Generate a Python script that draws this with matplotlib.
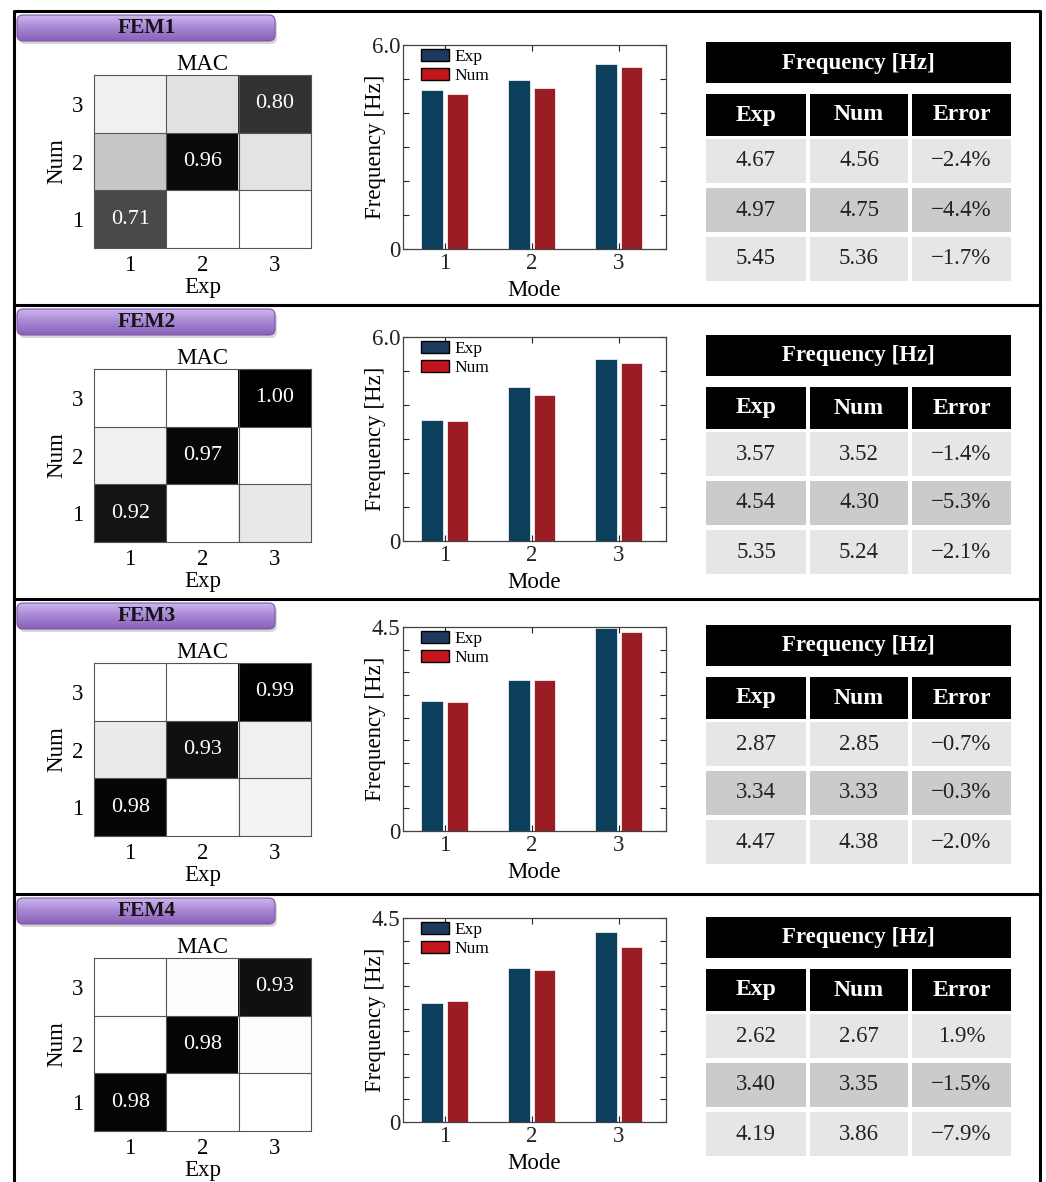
import numpy as np
import matplotlib.pyplot as plt
from matplotlib.patches import FancyBboxPatch, Rectangle, Patch
from matplotlib.colors import LinearSegmentedColormap

plt.rcParams['font.family'] = ['Liberation Serif', 'DejaVu Serif']

# model names
models = ['FEM1', 'FEM2', 'FEM3', 'FEM4']
modes = [1, 2, 3]

# MAC matrices, rows = Num mode 1..3, cols = Exp mode 1..3
mac_fem1 = [[0.71, 0.00, 0.00],
            [0.22, 0.96, 0.11],
            [0.06, 0.12, 0.80]]
mac_fem2 = [[0.92, 0.00, 0.09],
            [0.06, 0.97, 0.00],
            [0.00, 0.00, 1.00]]
mac_fem3 = [[0.98, 0.00, 0.05],
            [0.08, 0.93, 0.06],
            [0.00, 0.00, 0.99]]
mac_fem4 = [[0.98, 0.00, 0.00],
            [0.00, 0.98, 0.01],
            [0.00, 0.01, 0.93]]

# natural frequencies [Hz]
exp_fem1 = [4.67, 4.97, 5.45]
num_fem1 = [4.56, 4.75, 5.36]
err_fem1 = [-2.4, -4.4, -1.7]
exp_fem2 = [3.57, 4.54, 5.35]
num_fem2 = [3.52, 4.30, 5.24]
err_fem2 = [-1.4, -5.3, -2.1]
exp_fem3 = [2.87, 3.34, 4.47]
num_fem3 = [2.85, 3.33, 4.38]
err_fem3 = [-0.7, -0.3, -2.0]
exp_fem4 = [2.62, 3.40, 4.19]
num_fem4 = [2.67, 3.35, 3.86]
err_fem4 = [1.9, -1.5, -7.9]

ymax = [6.0, 6.0, 4.5, 4.5]
ystep = [1.0, 1.0, 0.5, 0.5]

macs = [mac_fem1, mac_fem2, mac_fem3, mac_fem4]
exps = [exp_fem1, exp_fem2, exp_fem3, exp_fem4]
nums = [num_fem1, num_fem2, num_fem3, num_fem4]
errs = [err_fem1, err_fem2, err_fem3, err_fem4]

W, H = 1046, 1182
fig = plt.figure(figsize=(W / 100, H / 100), dpi=100)


def box(x0, y0, x1, y1):
    return [x0 / W, 1 - y1 / H, (x1 - x0) / W, (y1 - y0) / H]


bg = fig.add_axes([0, 0, 1, 1])
bg.axis('off')

purple = LinearSegmentedColormap.from_list('purple', ['#cdb6ee', '#a685d3', '#8a60b8'])
grad = np.linspace(0, 1, 64).reshape(-1, 1)

tops = [11, 305, 599, 894]
bar_off = [34, 32, 28, 24]
tab_off = [31, 30, 26, 23]

c_exp = '#0b3f5c'
c_num = '#9b1d24'
fs = 16.5

for i, T in enumerate(tops):
    # title tag
    shadow = FancyBboxPatch((19, T + 7), 258, 26, boxstyle='round,pad=0,rounding_size=6',
                            fc='#7a7a7a', ec='none', alpha=0.3, zorder=1)
    bg.add_patch(shadow)
    tag = FancyBboxPatch((17, T + 4), 258, 26, boxstyle='round,pad=0,rounding_size=6',
                         fc='none', ec='#7b58a8', lw=0.8, zorder=3)
    bg.add_patch(tag)
    im = bg.imshow(grad, cmap=purple, extent=(17, 275, T + 30, T + 4), aspect='auto', zorder=2)
    im.set_clip_path(tag)
    bg.text(147, T + 17, models[i], ha='center', va='center', fontsize=15.5,
            fontweight='bold', color='#151515', zorder=4)

    # MAC matrix
    ax = fig.add_axes(box(94, T + 64, 311, T + 237))
    mac = np.array(macs[i])
    ax.imshow(mac, cmap='gray_r', vmin=0, vmax=1, origin='lower',
              extent=(0.5, 3.5, 0.5, 3.5), aspect='auto')
    for g in (1.5, 2.5):
        ax.axhline(g, color='#555555', lw=0.8)
        ax.axvline(g, color='#555555', lw=0.8)
    for k in range(3):
        ax.text(k + 1, k + 1, f'{mac[k, k]:.2f}', ha='center', va='center',
                color='white', fontsize=16)
    ax.set_xticks(modes)
    ax.set_yticks(modes)
    ax.tick_params(length=0, labelsize=fs, pad=5)
    ax.tick_params(axis='y', pad=8)
    for s in ax.spines.values():
        s.set_color('#555555')
        s.set_linewidth(0.8)
    ax.set_title('MAC', fontsize=fs, pad=2)
    ax.set_xlabel('Exp', fontsize=fs)
    ax.set_ylabel('Num', fontsize=fs)
    ax.xaxis.set_label_coords(0.5, -0.17)
    ax.yaxis.set_label_coords(-0.125, 0.5)

    # frequency bars
    bx = fig.add_axes(box(403, T + bar_off[i], 666, T + bar_off[i] + 204))
    x = np.array(modes)
    bx.bar(x - 0.145, exps[i], width=0.25, color=c_exp, edgecolor='white', linewidth=0.5)
    bx.bar(x + 0.145, nums[i], width=0.25, color=c_num, edgecolor='white', linewidth=0.5)
    bx.set_xlim(0.52, 3.54)
    bx.set_ylim(0, ymax[i])
    yt = np.arange(0, ymax[i] + 1e-6, ystep[i])
    bx.set_yticks(yt)
    bx.set_yticklabels(['0'] + [''] * (len(yt) - 2) + [f'{ymax[i]:.1f}'])
    bx.set_xticks(modes)
    bx.tick_params(direction='in', length=4, width=0.8, top=True, right=True,
                   labelsize=fs, colors='#222222')
    bx.tick_params(axis='y', pad=2)
    bx.tick_params(axis='x', pad=3)
    for s in bx.spines.values():
        s.set_color('#444444')
        s.set_linewidth(0.9)
    bx.set_xlabel('Mode', fontsize=fs)
    bx.set_ylabel('Frequency [Hz]', fontsize=fs)
    bx.xaxis.set_label_coords(0.5, -0.15)
    bx.yaxis.set_label_coords(-0.065, 0.5)
    handles = [Patch(facecolor='#1d3a5e', edgecolor='black', lw=1.0),
               Patch(facecolor='#c3151c', edgecolor='black', lw=1.0)]
    bx.legend(handles, ['Exp', 'Num'], loc='upper left', frameon=False, fontsize=12.5,
              handlelength=1.6, handleheight=0.75, labelspacing=0.15, handletextpad=0.35,
              borderaxespad=0.1, bbox_to_anchor=(0.035, 1.025))

    # frequency table
    t0 = T + tab_off[i]
    bg.add_patch(Rectangle((706, t0), 305, 41, fc='black', ec='none'))
    bg.text(858, t0 + 21, 'Frequency [Hz]', ha='center', va='center', color='white',
            fontsize=16.5, fontweight='bold')
    cols = [(706, 806), (810, 908), (912, 1011)]
    for (c0, c1), head in zip(cols, ['Exp', 'Num', 'Error']):
        bg.add_patch(Rectangle((c0, t0 + 52), c1 - c0, 42, fc='black', ec='none'))
        bg.text((c0 + c1) / 2, t0 + 73, head, ha='center', va='center', color='white',
                fontsize=17, fontweight='bold')
    row_y = [t0 + 97, t0 + 146, t0 + 195]
    row_c = ['#e6e6e6', '#cbcbcb', '#e6e6e6']
    for r in range(3):
        e = errs[i][r]
        cells = [f'{exps[i][r]:.2f}', f'{nums[i][r]:.2f}',
                 (f'{e:.1f}%' if e >= 0 else f'\u2212{abs(e):.1f}%')]
        for (c0, c1), txt in zip(cols, cells):
            bg.add_patch(Rectangle((c0, row_y[r]), c1 - c0, 44, fc=row_c[r], ec='none'))
            bg.text((c0 + c1) / 2, row_y[r] + 22, txt, ha='center', va='center',
                    color='#222222', fontsize=16.5)

# panel frame
for yy in tops[1:]:
    bg.plot([14, 1040], [yy, yy], color='black', lw=2.2, zorder=5)
bg.plot([14, 14, 1040, 1040], [H + 10, 11, 11, H + 10], color='black', lw=2.2, zorder=5)

bg.set_xlim(0, W)
bg.set_ylim(H, 0)

fig.savefig('out.png', dpi=100)
